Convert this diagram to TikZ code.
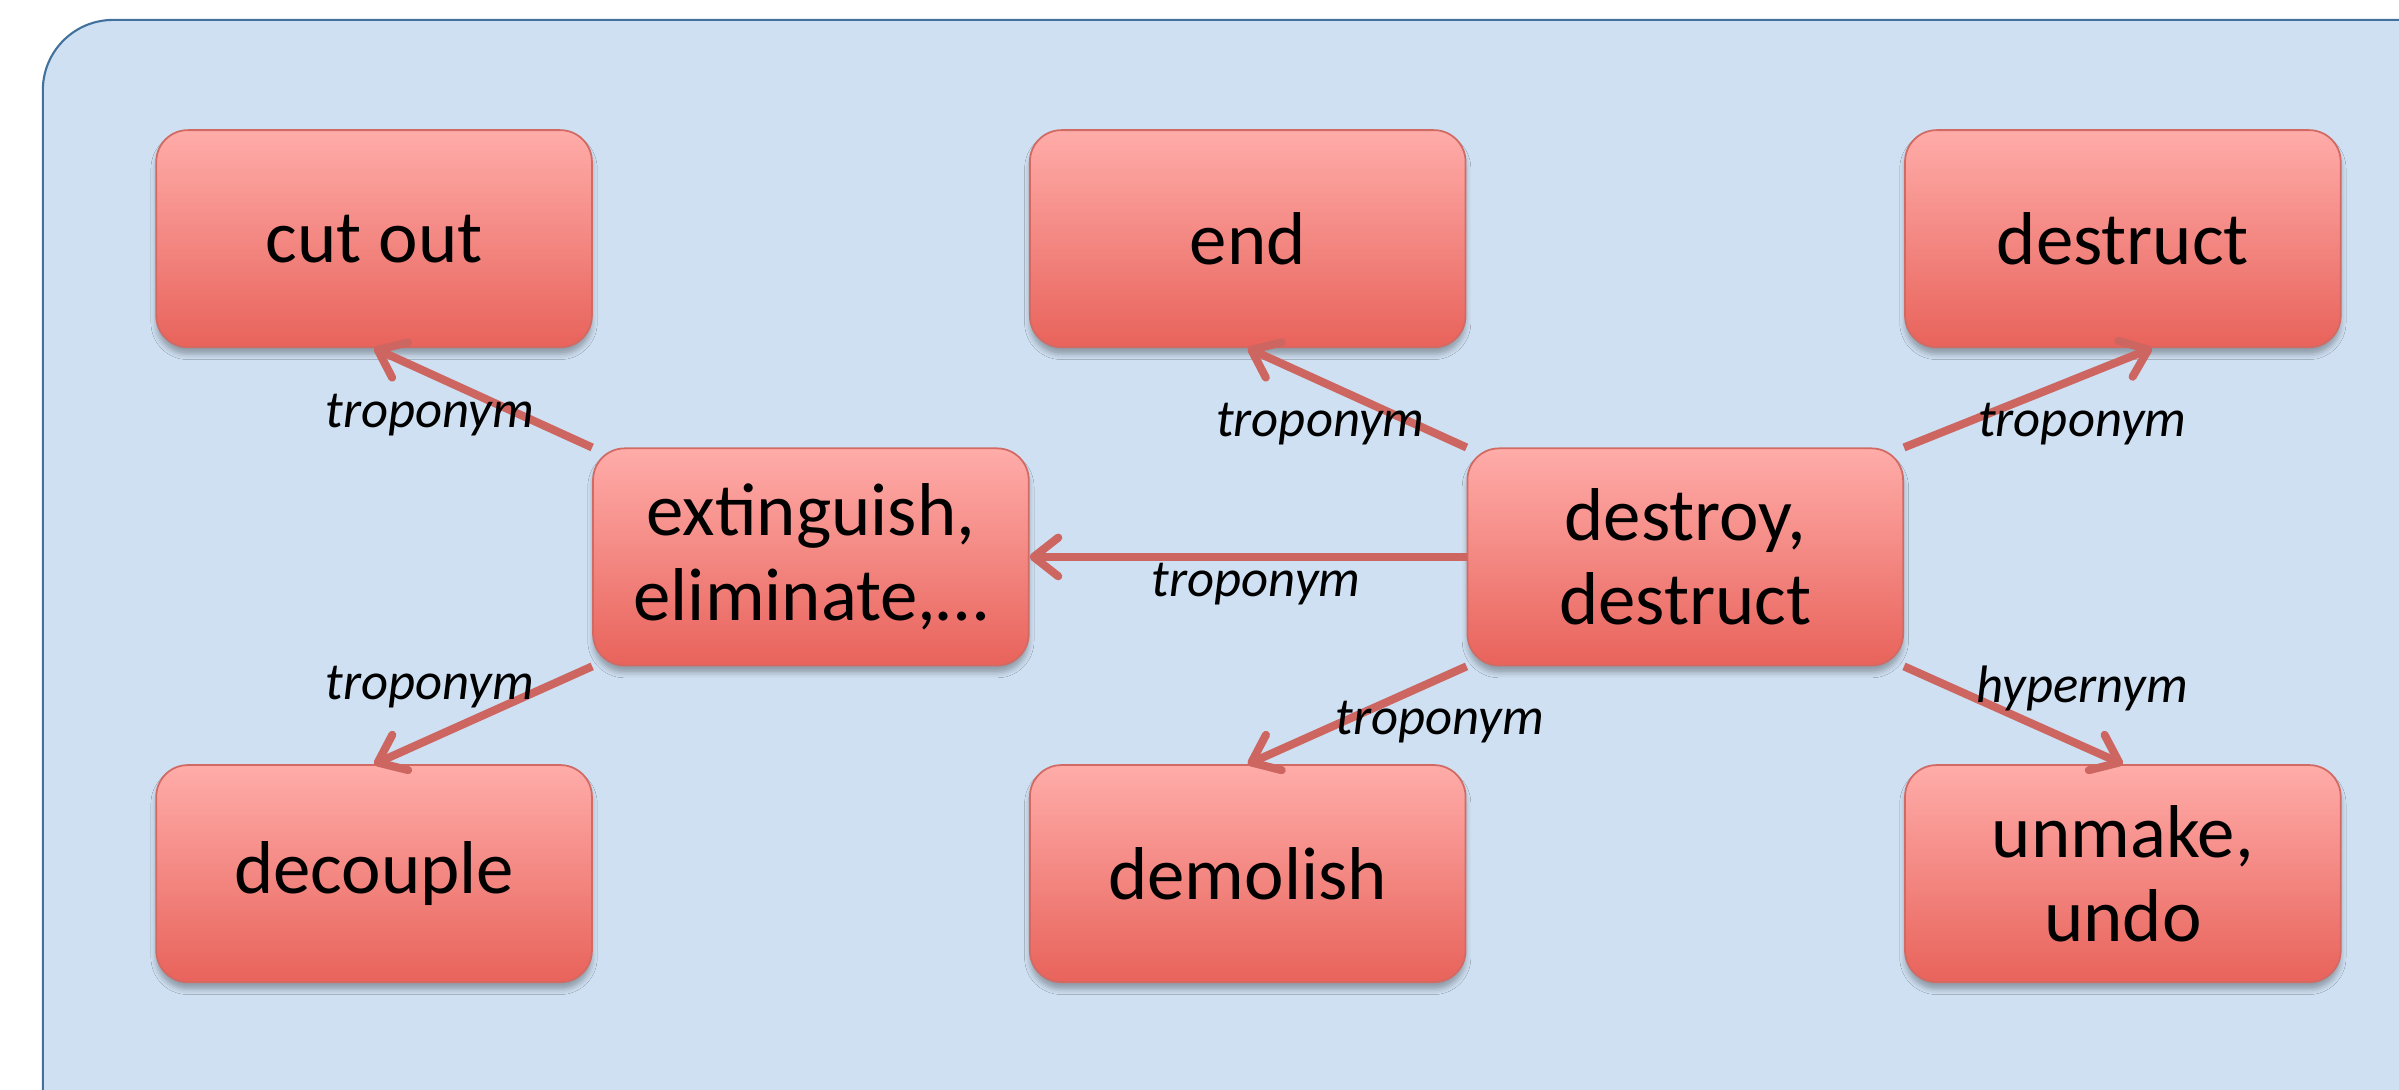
\documentclass[tikz,border=0pt]{standalone}
\usepackage{fontspec}
\setmainfont{Carlito}
\usetikzlibrary{arrows.meta,shadows.blur}

\definecolor{panelfill}{HTML}{CFE0F2}
\definecolor{panelline}{HTML}{41719C}
\definecolor{boxtop}{HTML}{FFACA9}
\definecolor{boxbot}{HTML}{E8635B}
\definecolor{boxline}{HTML}{D26A64}
\definecolor{linkcol}{HTML}{CD6660}

\begin{document}
\begin{tikzpicture}[x=0.0153cm,y=-0.0153cm,
  word/.style={rounded corners=9pt, minimum width=124pt, minimum height=61.8pt,
    top color=boxtop, bottom color=boxbot, draw=boxline, line width=0.5pt,
    align=center, inner sep=0pt, font=\fontsize{21.3}{24}\selectfont,
    blur shadow={shadow xshift=0pt, shadow yshift=-2pt, shadow opacity=30,
      shadow blur radius=1.5pt}},
  link/.style={draw=linkcol, line width=2.3pt,
    -{Straight Barb[length=7pt,width=11pt,round]}},
  rel/.style={font=\fontsize{15}{18}\selectfont\itshape, inner sep=0pt}
]
\useasboundingbox (0,0) rectangle (1568,712);

% background panel, running off the right and bottom edges
\begin{scope}
  \clip (0,0) rectangle (1568,712);
  \path[fill=panelfill, draw=panelline, line width=0.6pt, rounded corners=20pt]
    (28,13) rectangle (1640,780);
\end{scope}

% word nodes
\node[word] (cut)  at (244.5,156) {cut out};
\node[word] (end)  at (815.5,156) {end};
\node[word] (dsc)  at (1387.5,156) {destruct};
\node[word] (ext)  at (530,364) {extinguish,\\eliminate,…};
\node[word] (dst)  at (1101.5,364) {destroy,\\destruct};
\node[word] (dec)  at (244.5,571) {decouple};
\node[word] (dem)  at (815.5,571) {demolish};
\node[word] (unm)  at (1387.5,571) {unmake,\\undo};

% relations
\draw[link] (ext.north west) -- (cut.south);
\draw[link] (ext.south west) -- (dec.north);
\draw[link] (dst.north west) -- (end.south);
\draw[link] (dst.west) -- (ext.east);
\draw[link] (dst.north east) -- ([xshift=8.3pt]dsc.south);
\draw[link] (dst.south west) -- (dem.north);
\draw[link] (dst.south east) -- (unm.north);

% relation labels
\node[rel] (r1) at (281,271) {troponym};
\node[rel] (r2) at (281,449) {troponym};
\node[rel] (r3) at (863,277) {troponym};
\node[rel] (r4) at (821,382) {troponym};
\node[rel] (r5) at (1361,277) {troponym};
\node[rel] (r6) at (941,472) {troponym};
\node[rel] (r7) at (1361,450) {hypernym};
\end{tikzpicture}
\end{document}
